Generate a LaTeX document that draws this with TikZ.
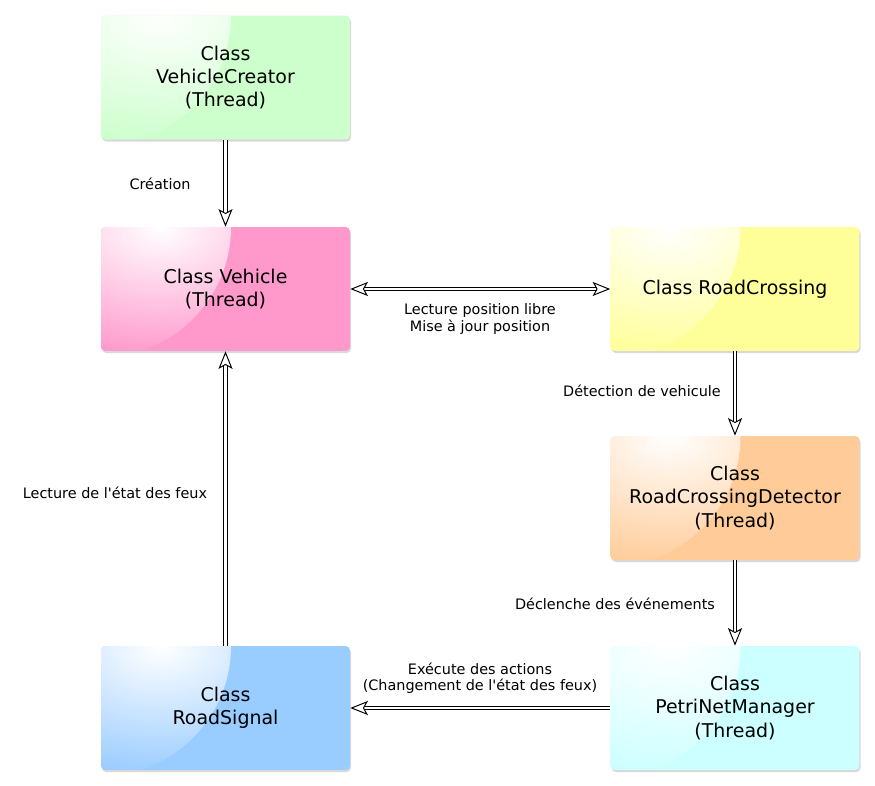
\documentclass[tikz,border=0pt]{standalone}
\usepackage{fontspec}
\setmainfont{DejaVu Sans}
\usetikzlibrary{arrows.meta,shadows}

\definecolor{creatorgreen}{HTML}{CCFFCC}
\definecolor{vehiclepink}{HTML}{FF99CC}
\definecolor{crossyellow}{HTML}{FFFF99}
\definecolor{detectorange}{HTML}{FFCC99}
\definecolor{petricyan}{HTML}{CCFFFF}
\definecolor{signalblue}{HTML}{99CCFF}

\begin{document}
\begin{tikzpicture}[x=0.02cm, y=-0.02cm,
        classbox/.style={fill=#1, rounded corners=2.5pt, minimum width=4.98cm,
            minimum height=2.48cm, inner sep=0pt, align=center,
            font=\fontsize{10.8}{13.3}\selectfont,
            drop shadow={shadow xshift=0.6pt, shadow yshift=-1.2pt, opacity=0.3},
            path picture={\shade[inner color=white, outer color=#1]
                (path picture bounding box.north west) circle (2.6cm);}},
        tip/.tip={Stealth[open, length=10pt, width=8pt, inset=2.2pt, line width=0.55pt]},
        flow/.style={double, double distance=1.4pt, line width=0.55pt, -tip},
        note/.style={font=\fontsize{8.2}{9.3}\selectfont, align=center}]
        \useasboundingbox[fill=white] (0,0) rectangle (875,786);

        % classes
        \node[classbox=creatorgreen] (creator) at (225.5,77.5) {Class\\VehicleCreator\\(Thread)};
        \node[classbox=vehiclepink] (vehicle) at (225.5,289) {Class Vehicle\\(Thread)};
        \node[classbox=crossyellow] (crossing) at (735,289) {Class RoadCrossing};
        \node[classbox=detectorange] (detector) at (735,498) {Class\\RoadCrossingDetector\\(Thread)};
        \node[classbox=petricyan] (petri) at (735,708) {Class\\PetriNetManager\\(Thread)};
        \node[classbox=signalblue] (signal) at (225.5,708) {Class\\RoadSignal};

        % flows
        \draw[flow] (creator) -- (vehicle);
        \draw[flow, tip-tip] (vehicle) -- (crossing);
        \draw[flow] (crossing) -- (detector);
        \draw[flow] (detector) -- (petri);
        \draw[flow] (petri) -- (signal);
        \draw[flow] (signal) -- (vehicle);

        % labels
        \node[note] (lcreation) at (160,184) {Création};
        \node[note] (lposition) at (480,319) {Lecture position libre\\Mise à jour position};
        \node[note] (ldetect) at (642,391) {Détection de vehicule};
        \node[note] (lfire) at (615,604) {Déclenche des événements};
        \node[note] (lactions) at (480,678) {Exécute des actions\\(Changement de l\textquotesingle état des feux)};
        \node[note] (lsignal) at (115,493) {Lecture de l\textquotesingle état des feux};
    \end{tikzpicture}
\end{document}
